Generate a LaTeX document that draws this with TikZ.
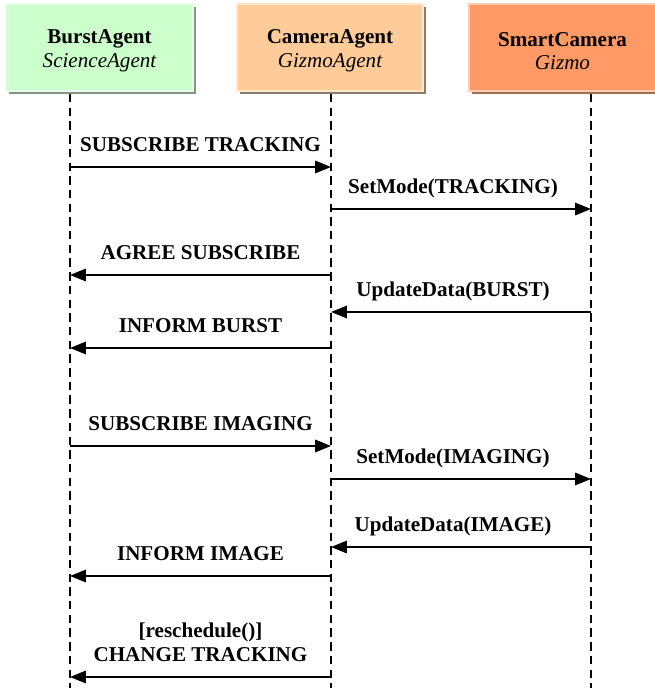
\documentclass[tikz,border=0pt]{standalone}
\usepackage{fontspec}
\setmainfont{Liberation Serif}
\usetikzlibrary{positioning,arrows.meta,shadows}
\definecolor{science}{HTML}{CCFFCC}
\definecolor{gizmoagent}{HTML}{FFCC99}
\definecolor{gizmo}{HTML}{FF9966}

\begin{document}
\begin{tikzpicture}[
  x=0.02cm, y=-0.02cm,
  every node/.style={font=\fontsize{12}{13.5}\selectfont\bfseries},
  actor/.style={
    rectangle, minimum width=3.74cm, minimum height=1.74cm,
    inner sep=0pt, line width=0.04cm,
  },
  actorname/.style={align=center, yshift=-0.07cm},
  lifeline/.style={line width=1.6pt, dash pattern=on 4.8pt off 3pt},
  msg/.style={-{Triangle[length=9pt,width=7pt]}, line width=1.2pt},
  lbl/.style={inner sep=0pt, text depth=0pt, above=8.2pt, align=center},
  rlbl/.style={lbl, xshift=-0.16cm},
]
  \useasboundingbox (0,0) rectangle (654,688);

  % Actors (header boxes)
  \node[actor, fill=science, draw=science!50!white,
        drop shadow={shadow xshift=0.06cm, shadow yshift=-0.06cm, fill=science!40!black!70, opacity=1},
        label={[actorname]center:BurstAgent\\{\normalfont\itshape ScienceAgent}}]
        (burst) at (99.5,47.5) {};
  \node[actor, fill=gizmoagent, draw=gizmoagent!50!white,
        drop shadow={shadow xshift=0.06cm, shadow yshift=-0.06cm, fill=gizmoagent!45!black!80, opacity=1},
        label={[actorname]center:CameraAgent\\{\normalfont\itshape GizmoAgent}}]
        (camera) at (330,47.5) {};
  \node[actor, fill=gizmo, draw=gizmo!50!white,
        drop shadow={shadow xshift=0.06cm, shadow yshift=-0.06cm, fill=gizmo!55!black!85, opacity=1},
        label={[actorname]center:SmartCamera\\{\normalfont\itshape Gizmo}}]
        (smart) at (562.5,47.5) {};

  % Lifelines
  \coordinate (bt) at (70,94);   \coordinate (bb) at (70,688);
  \coordinate (ct) at (331,94);  \coordinate (cb) at (331,688);
  \coordinate (st) at (591,94);  \coordinate (sb) at (591,688);
  \draw[lifeline] (bt) -- (bb);
  \draw[lifeline] (ct) -- (cb);
  \draw[lifeline] (st) -- (sb);

  % message end points on each lifeline
  \foreach \n/\y in {1/167,2/209,3/275,4/312,5/348,6/446,7/479,8/547,9/576,10/677}{
    \coordinate (b\n) at (70,\y);
    \coordinate (c\n) at (331,\y);
    \coordinate (s\n) at (591,\y);
  }

  % Messages
  \draw[msg] (b1) -- node[lbl] {SUBSCRIBE TRACKING} (c1);
  \draw[msg] (c2) -- node[rlbl] {SetMode(TRACKING)} (s2);
  \draw[msg] (c3) -- node[lbl] {AGREE SUBSCRIBE} (b3);
  \draw[msg] (s4) -- node[rlbl] {UpdateData(BURST)} (c4);
  \draw[msg] (c5) -- node[lbl] {INFORM BURST} (b5);
  \draw[msg] (b6) -- node[lbl] {SUBSCRIBE IMAGING} (c6);
  \draw[msg] (c7) -- node[rlbl] {SetMode(IMAGING)} (s7);
  \draw[msg] (s8) -- node[rlbl] {UpdateData(IMAGE)} (c8);
  \draw[msg] (c9) -- node[lbl] {INFORM IMAGE} (b9);
  \draw[msg] (c10) -- node[lbl] {[reschedule()]\\CHANGE TRACKING} (b10);
\end{tikzpicture}
\end{document}
